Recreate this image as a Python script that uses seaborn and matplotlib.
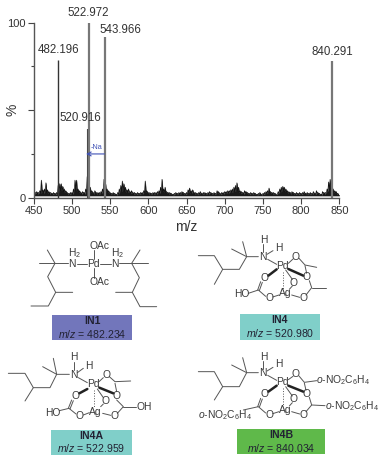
import matplotlib
matplotlib.use('Agg')
import matplotlib.pyplot as plt
import seaborn as sns
import pandas as pd
from matplotlib.patches import Rectangle

# Peaks
peak_mz = [482.196, 520.916, 522.972, 543.966, 840.291]
peak_pct = [78.7, 39, 100, 92, 78]
peak_labels = ['482.196', '520.916', '522.972', '543.966', '840.291']
peak_colors = ['#333333', '#444444', '#777777', '#777777', '#777777']
peak_widths = [1.0, 1.5, 1.6, 1.6, 1.6]

# Baseline noise, one value every 2 m/z from 450 to 850 (20 values per row)
noise_even = [
    3, 3, 3.5, 3, 4, 10, 4.5, 5, 8.5, 4.5, 3.5, 3, 2.5, 3, 2.5, 3, 7, 8, 8, 6.5,
    5, 4, 3, 2.5, 3, 3, 5, 10, 10, 5, 4, 3, 3.5, 3, 5, 12, 13, 6, 4, 3,
    4, 3, 3, 3, 3.5, 5, 10.5, 8, 5, 4, 3, 2.5, 3, 2.5, 2, 3, 5, 7, 9.5, 8,
    6, 4.5, 5, 3.5, 4, 3, 3, 2.5, 3, 2.5, 3, 3, 4, 9.5, 4, 3, 3, 2.5, 3, 3,
    3, 3.5, 4, 6, 10.5, 5, 6, 3.5, 3, 3, 2.5, 2, 2.5, 3, 2.5, 3, 3, 3.5, 3, 2.5,
    3, 4.5, 5.5, 4, 4.5, 3, 3, 2.5, 3, 3.5, 2.5, 3, 3, 2.5, 3, 3.5, 3, 2.5, 3, 2.5,
    4, 3.5, 2.5, 3, 3, 3.5, 3.5, 4, 4, 4.5, 5, 6, 7, 8.5, 6, 4, 3.5, 3, 4, 3.5,
    3, 2.5, 3, 2.5, 3, 2.5, 2, 2.5, 3, 2, 2.5, 3, 3.5, 4, 5.5, 3.5, 3, 3, 2.5, 2,
    3.5, 5, 6, 6.5, 6, 5, 4, 3.5, 3, 3.5, 3, 2.5, 3, 2.5, 3, 2.5, 3, 3.5, 2.5, 3,
    2.5, 3, 2.5, 3.5, 2.5, 4, 3, 2.5, 2, 3.5, 3, 3, 5, 9, 10.5, 9, 5, 4, 3.5, 2.5,
    1.5,
]
# The dips between them, at the odd m/z values from 451 to 849
noise_odd = [
    2, 2.5, 2, 2.5, 2.5, 3, 2.5, 3, 3, 2.5, 2, 2.5, 1.8, 2, 1.8, 2, 3, 3.5, 4, 3,
    3, 2.5, 2, 1.8, 2, 2, 2.5, 4, 3.5, 3, 2.5, 2, 2.5, 2, 3, 4, 4, 3, 2.5, 2,
    2.5, 2, 2, 2, 2.5, 3, 4, 3.5, 3, 2.5, 2, 1.8, 2, 1.8, 1.5, 2, 3, 3.5, 4, 3.5,
    3, 3, 3, 2.5, 2.5, 2, 2, 1.8, 2, 2, 2, 2, 2.5, 3, 2.5, 2, 2, 1.8, 2, 2,
    2, 2.5, 2.5, 3, 3.5, 3, 3, 2.5, 2, 2, 1.8, 1.5, 2, 2, 1.8, 2, 2, 2.5, 2, 1.8,
    2, 3, 2.5, 2.5, 3, 2, 2, 1.8, 2, 2.5, 1.8, 2, 2, 1.8, 2, 2.5, 2, 1.8, 2, 2,
    2.5, 2, 1.8, 2, 2, 2.5, 2.5, 2.5, 3, 3, 3, 3.5, 3.5, 4, 3, 2.5, 2.5, 2, 2.5, 2.5,
    2, 1.8, 2, 1.8, 2, 1.8, 1.5, 1.8, 2, 1.5, 1.8, 2, 2.5, 2.5, 3, 2.5, 2, 2, 1.8, 2,
    2.5, 3, 3.5, 4, 3.5, 3, 2.5, 2.5, 2, 2.5, 2, 1.8, 2, 1.8, 2, 1.8, 2, 2.5, 1.8, 2,
    1.8, 2, 1.8, 2.5, 1.8, 2.5, 2, 1.8, 1.5, 2.5, 2, 2.5, 3.5, 4.5, 5, 4, 3, 2.5, 2, 1.8,
]
noise_even_mz = list(range(450, 851, 2))
noise_odd_mz = list(range(451, 850, 2))

# Text of the four structure panels
panel_names = ['IN1', 'IN4', 'IN4A', 'IN4B']
panel_mz = ['482.234', '520.980', '522.959', '840.034']
panel_colors = ['#7276bb', '#80cfc9', '#80cfc9', '#5fb94a']

sns.set_theme(style='ticks')
plt.rcParams['font.family'] = ['Liberation Sans', 'DejaVu Sans']
plt.rcParams['mathtext.fontset'] = 'custom'
plt.rcParams['mathtext.rm'] = 'Liberation Sans'
plt.rcParams['mathtext.it'] = 'Liberation Sans:italic'

fig = plt.figure(figsize=(3.87, 4.62), dpi=100)

# Spectrum
ax = fig.add_axes([33.7 / 387, 1 - 197.7 / 462, 305.6 / 387, 175 / 462])
df = pd.DataFrame({'mz': noise_even_mz + noise_odd_mz, 'pct': noise_even + noise_odd}).sort_values('mz')
ax.fill_between(df['mz'], 1.2, df['pct'], color='#1a1a1a', lw=0.2)
sns.lineplot(data=df, x='mz', y='pct', color='#111111', lw=0.5, ax=ax, errorbar=None)
ax.vlines(peak_mz, 0, peak_pct, colors=peak_colors, linewidths=peak_widths)
ax.set_xlim(450, 850)
ax.set_ylim(0, 100)
ax.set_xticks(range(450, 851, 50))
ax.set_yticks([0, 50, 100])
ax.set_yticklabels(['0', '', '100'])
ax.set_yticks([25, 75], minor=True)
ax.tick_params(axis='both', labelsize=8, length=4, width=0.8, pad=2, color='#444444', labelcolor='#333333')
ax.tick_params(axis='y', which='minor', length=2, width=0.8, color='#444444')
ax.set_xlabel('m/z', fontsize=10, color='#333333', labelpad=3)
ax.set_ylabel('%', fontsize=10, color='#333333')
ax.yaxis.set_label_coords(-0.045, 0.5)
for s in ['top', 'right']:
    ax.spines[s].set_visible(False)
for s in ['left', 'bottom']:
    ax.spines[s].set_color('#555555')
    ax.spines[s].set_linewidth(1.0)
ax.patch.set_alpha(0)

label_pos = [(483, 84.4), (510.6, 45.7), (521.5, 105.3), (564, 95.8), (841, 83)]
for (lx, ly), txt in zip(label_pos, peak_labels):
    ax.text(lx, ly, txt, fontsize=8.3, ha='center', va='center', color='#333333', clip_on=False)

ax.annotate('', xy=(518.5, 25), xytext=(542.5, 25),
            arrowprops=dict(arrowstyle='->', color='#3f51b5', lw=0.8, shrinkA=0, shrinkB=0, mutation_scale=7))
ax.text(532, 28.8, '-Na', fontsize=5.2, color='#3f51b5', ha='center', va='center')

# Overlay in 3x reference pixels for the chemical structures
ov = fig.add_axes([0, 0, 1, 1])
ov.set_xlim(0, 1161)
ov.set_ylim(1386, 0)
ov.axis('off')
ov.patch.set_alpha(0)

INK = '#555555'
OFF_L = (0, 705)
OFF_R = (585, 705)


def seg(off, path, lw=0.7, ls='-', c=INK):
    xs = [p[0] + off[0] for p in path]
    ys = [p[1] + off[1] for p in path]
    ov.plot(xs, ys, color=c, lw=lw, ls=ls, solid_capstyle='round')


def atom(off, x, y, txt, size=7.4, ha='center'):
    ov.text(x + off[0], y + off[1], txt, fontsize=size, ha=ha, va='center', color='#3a3a3a')


def box(off, x0, y0, x1, y1, color, name, mz):
    ov.add_patch(Rectangle((x0 + off[0], y0 + off[1]), x1 - x0, y1 - y0, color=color, lw=0))
    cx = (x0 + x1) / 2 + off[0]
    ov.text(cx, y0 + 18 + off[1], name, fontsize=7.6, fontweight='bold', ha='center', va='center', color='#222233')
    ov.text(cx, y0 + 56 + off[1], '$m/z$ = ' + mz, fontsize=7.6, ha='center', va='center', color='#222233')


# IN1
o = OFF_L
seg(o, [(118, 85), (205, 85)])
seg(o, [(142, 45), (165, 85), (143, 125), (167, 172), (218, 172)])
seg(o, [(167, 172), (145, 213), (93, 213)])
seg(o, [(230, 87), (260, 87)])
seg(o, [(300, 87), (332, 87)])
seg(o, [(282, 45), (282, 72)])
seg(o, [(282, 100), (282, 128)])
seg(o, [(358, 85), (445, 85)])
seg(o, [(420, 45), (395, 85), (418, 128), (397, 172), (347, 172)])
seg(o, [(397, 172), (420, 215), (470, 215)])
atom(o, 217, 87, 'N')
atom(o, 224, 53, 'H$_2$')
atom(o, 280, 87, 'Pd')
atom(o, 345, 87, 'N')
atom(o, 353, 53, 'H$_2$')
atom(o, 297, 33, 'OAc')
atom(o, 297, 141, 'OAc')
box(o, 156, 240, 397, 316, panel_colors[0], panel_names[0], panel_mz[0])

# IN4A
seg(o, [(222, 380), (222, 405)])
seg(o, [(232, 413), (250, 400)])
seg(o, [(208, 418), (170, 418), (160, 370)])
seg(o, [(128, 395), (170, 418), (150, 458), (100, 458), (75, 498)])
seg(o, [(100, 458), (75, 415), (25, 415)])
seg(o, [(235, 428), (262, 443)])
seg(o, [(297, 440), (310, 428)])
seg(o, [(328, 425), (345, 440), (392, 438)])
seg(o, [(345, 445), (350, 470)])
seg(o, [(298, 458), (340, 475)], lw=1.8, c='#222222')
seg(o, [(262, 462), (238, 475)], lw=1.8, c='#222222')
seg(o, [(282, 465), (282, 518)], ls=':')
seg(o, [(302, 515), (310, 507)])
seg(o, [(292, 462), (310, 488)])
seg(o, [(250, 540), (268, 533)])
seg(o, [(215, 495), (205, 520)])
seg(o, [(220, 497), (210, 522)])
seg(o, [(178, 527), (207, 520), (228, 537)])
seg(o, [(308, 535), (332, 541)])
seg(o, [(352, 535), (370, 515), (350, 495)])
seg(o, [(370, 515), (408, 515)])
atom(o, 222, 367, 'H')
atom(o, 222, 420, 'N')
atom(o, 265, 393, 'H')
atom(o, 280, 448, 'Pd')
atom(o, 320, 420, 'O')
atom(o, 350, 482, 'O')
atom(o, 225, 483, 'O')
atom(o, 315, 498, 'O')
atom(o, 287, 530, 'Ag')
atom(o, 238, 543, 'O')
atom(o, 343, 543, 'O')
atom(o, 157, 533, 'HO')
atom(o, 432, 515, 'OH')
box(o, 152, 584, 396, 660, panel_colors[2], panel_names[2], panel_mz[2])

# IN4
o = OFF_R
seg(o, [(205, 28), (205, 52)])
seg(o, [(216, 58), (234, 47)])
seg(o, [(190, 65), (155, 65), (143, 20)])
seg(o, [(110, 42), (155, 65), (133, 103), (83, 103), (58, 148)])
seg(o, [(83, 103), (58, 62), (10, 62)])
seg(o, [(218, 73), (245, 88)])
seg(o, [(280, 85), (294, 72)])
seg(o, [(312, 70), (330, 90), (365, 97)])
seg(o, [(330, 92), (335, 115)])
seg(o, [(280, 102), (325, 122)], lw=1.8, c='#222222')
seg(o, [(245, 103), (220, 122)], lw=1.8, c='#222222')
seg(o, [(263, 110), (263, 162)], ls=':')
seg(o, [(283, 163), (292, 153)])
seg(o, [(272, 105), (292, 133)])
seg(o, [(233, 186), (252, 180)])
seg(o, [(197, 140), (188, 165)])
seg(o, [(202, 142), (193, 167)])
seg(o, [(160, 175), (190, 165), (212, 184)])
seg(o, [(290, 180), (314, 187)])
seg(o, [(333, 180), (350, 158), (343, 137)])
seg(o, [(350, 158), (392, 158)])
atom(o, 205, 15, 'H')
atom(o, 205, 65, 'N')
atom(o, 250, 40, 'H')
atom(o, 263, 93, 'Pd')
atom(o, 303, 65, 'O')
atom(o, 335, 127, 'O')
atom(o, 208, 130, 'O')
atom(o, 297, 143, 'O')
atom(o, 270, 175, 'Ag')
atom(o, 222, 190, 'O')
atom(o, 325, 190, 'O')
atom(o, 140, 178, 'HO')
box(o, 135, 238, 375, 314, panel_colors[1], panel_names[1], panel_mz[1])

# IN4B
seg(o, [(205, 378), (205, 402)])
seg(o, [(216, 408), (234, 397)])
seg(o, [(190, 413), (155, 413), (143, 368)])
seg(o, [(110, 390), (155, 413), (133, 455), (83, 455), (58, 495)])
seg(o, [(83, 455), (58, 410), (10, 410)])
seg(o, [(218, 421), (245, 436)])
seg(o, [(280, 434), (294, 424)])
seg(o, [(312, 423), (328, 442), (365, 437)])
seg(o, [(328, 444), (333, 466)])
seg(o, [(280, 452), (325, 470)], lw=1.8, c='#222222')
seg(o, [(245, 452), (220, 470)], lw=1.8, c='#222222')
seg(o, [(263, 458), (263, 512)], ls=':')
seg(o, [(283, 513), (292, 503)])
seg(o, [(272, 455), (292, 483)])
seg(o, [(233, 536), (252, 530)])
seg(o, [(197, 490), (188, 515)])
seg(o, [(202, 492), (193, 517)])
seg(o, [(145, 525), (190, 515), (212, 534)])
seg(o, [(290, 530), (314, 537)])
seg(o, [(333, 530), (350, 510), (343, 487)])
seg(o, [(350, 510), (390, 512)])
atom(o, 205, 365, 'H')
atom(o, 205, 415, 'N')
atom(o, 250, 388, 'H')
atom(o, 263, 442, 'Pd')
atom(o, 303, 418, 'O')
atom(o, 335, 478, 'O')
atom(o, 208, 478, 'O')
atom(o, 297, 493, 'O')
atom(o, 270, 525, 'Ag')
atom(o, 222, 540, 'O')
atom(o, 325, 540, 'O')
atom(o, 443, 435, '$o$-NO$_2$C$_6$H$_4$')
atom(o, 470, 513, '$o$-NO$_2$C$_6$H$_4$')
atom(o, 90, 540, '$o$-NO$_2$C$_6$H$_4$')
box(o, 125, 582, 390, 658, panel_colors[3], panel_names[3], panel_mz[3])

fig.savefig('out.png', dpi=100)
